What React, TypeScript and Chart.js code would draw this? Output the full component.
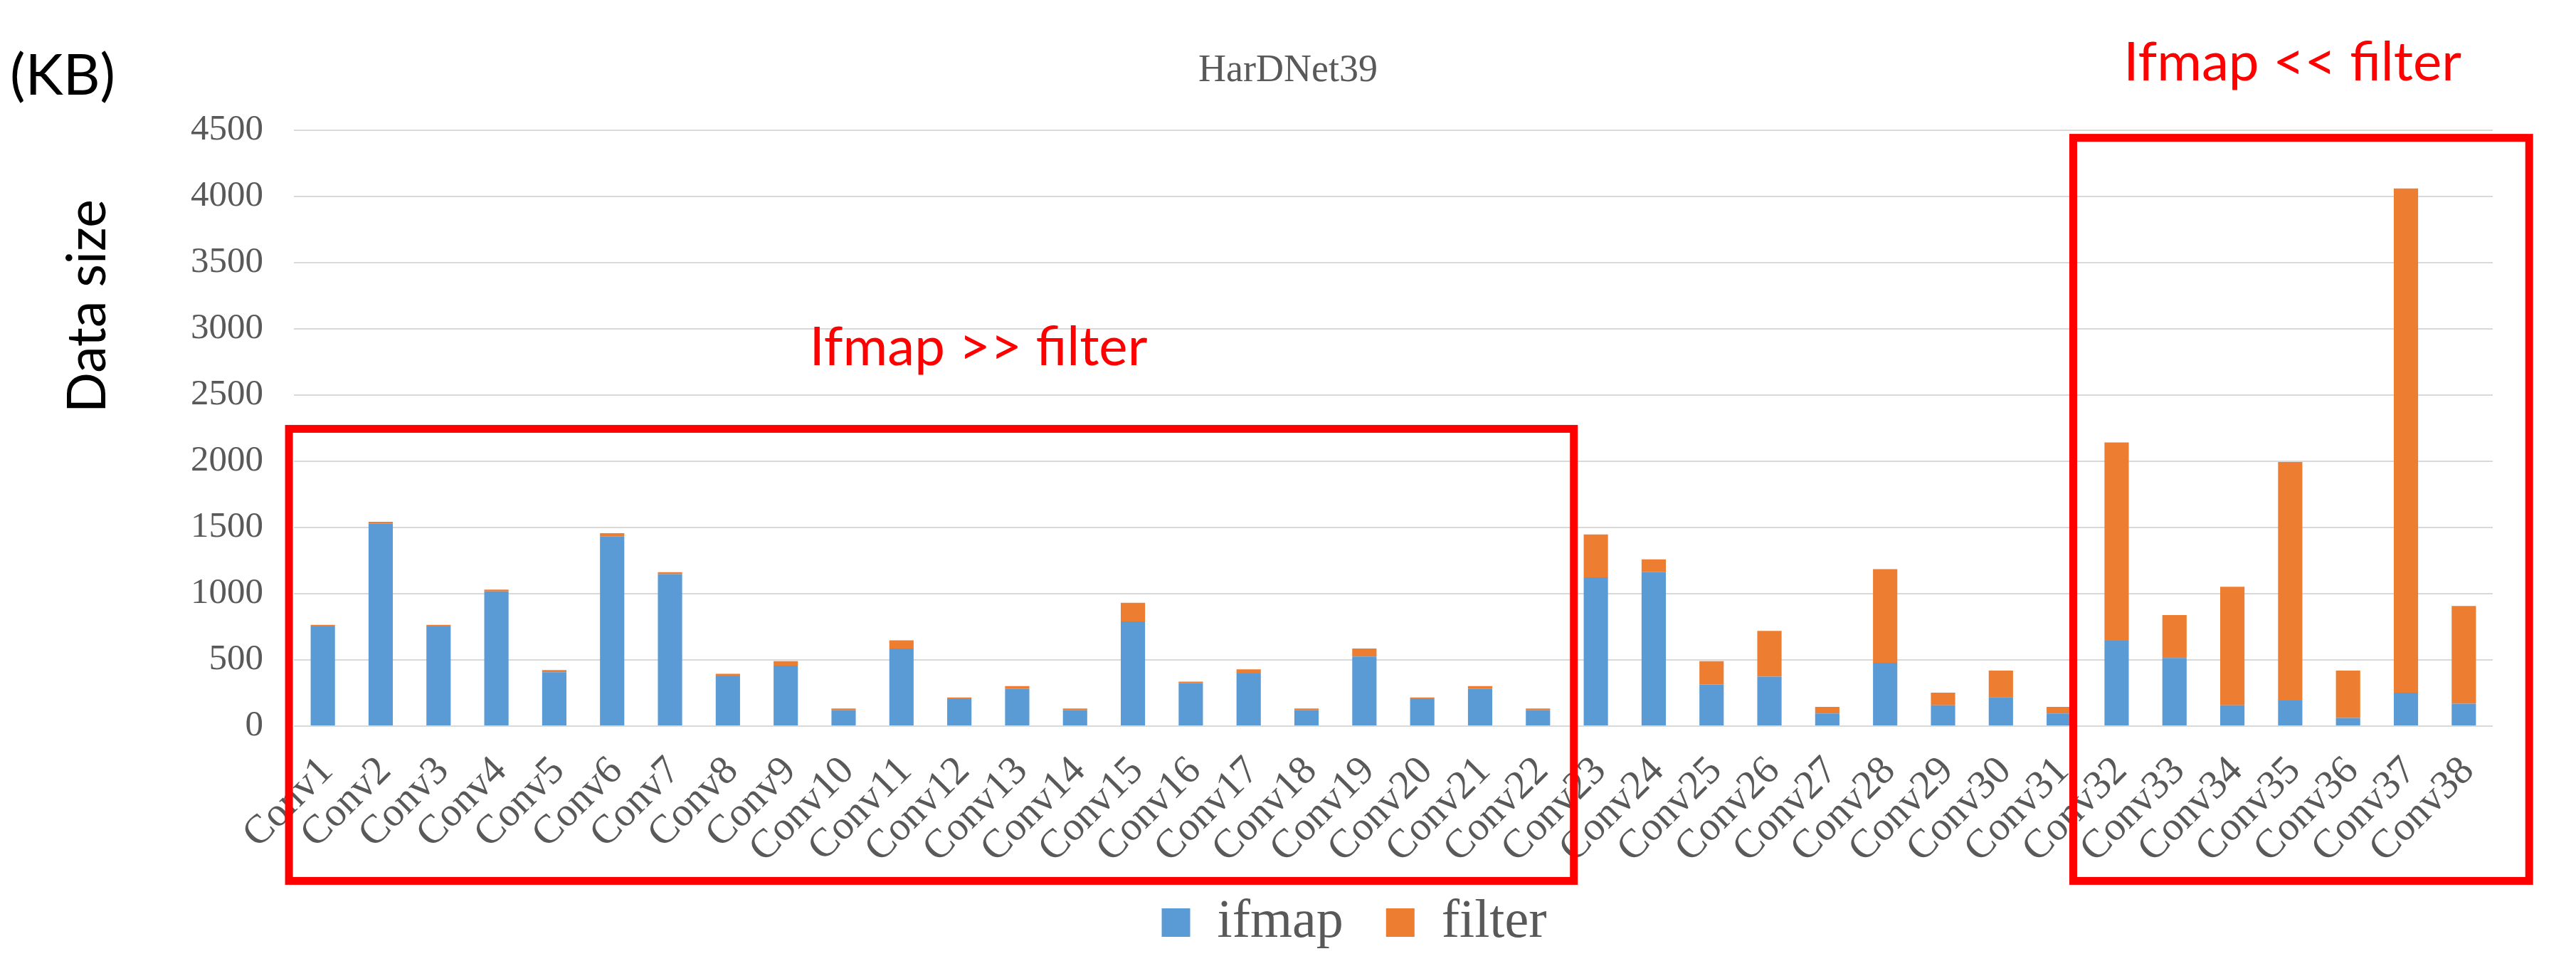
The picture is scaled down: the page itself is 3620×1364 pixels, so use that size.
import React, { useEffect, useRef } from "react";
import { Chart, registerables } from "chart.js";

Chart.register(...registerables);

const categories = [
  "Conv1", "Conv2", "Conv3", "Conv4", "Conv5", "Conv6", "Conv7", "Conv8", "Conv9", "Conv10",
  "Conv11", "Conv12", "Conv13", "Conv14", "Conv15", "Conv16", "Conv17", "Conv18", "Conv19", "Conv20",
  "Conv21", "Conv22", "Conv23", "Conv24", "Conv25", "Conv26", "Conv27", "Conv28", "Conv29", "Conv30",
  "Conv31", "Conv32", "Conv33", "Conv34", "Conv35", "Conv36", "Conv37", "Conv38",
];

const ifmapValues = [
  753, 1528, 753, 1018, 407, 1432, 1148, 376, 457, 120,
  586, 204, 281, 120, 790, 324, 398, 120, 525, 204,
  281, 120, 1123, 1163, 315, 373, 96, 478, 157, 219,
  96, 645, 515, 157, 194, 62, 253, 170,
];

const filterValues = [
  12, 15, 12, 13, 16, 25, 15, 19, 34, 13,
  62, 12, 21, 13, 142, 12, 31, 13, 61, 12,
  21, 13, 324, 96, 176, 346, 49, 707, 96, 201,
  49, 1497, 324, 895, 1800, 358, 3808, 737,
];

const yMin = 0;
const yMax = 4500;
const yStep = 500;

const titleText = "HarDNet39";
const seriesNames = ["ifmap", "filter"];
const unitLabel = "(KB)";
const yAxisLabel = "Data size";
const noteLeft = "Ifmap >> filter";
const noteRight = "Ifmap << filter";

const BLUE = "#5B9BD5";
const ORANGE = "#ED7D31";
const GRAY_TEXT = "#595959";
const SERIF = "'Liberation Serif', 'Times New Roman', serif";
const SANS = "Lato, 'Open Sans', sans-serif";

function fitFontSize(ctx: CanvasRenderingContext2D, text: string, family: string, targetWidth: number) {
  ctx.font = `100px ${family}`;
  const w = ctx.measureText(text).width;
  return (100 * targetWidth) / w;
}

const annotationPlugin = {
  id: "annotations",
  afterLayout(chart: any) {
    // widen label clip areas so long tick labels are not cut
    const ys = chart.scales.y;
    if (ys) ys.left = 0;
    const xs = chart.scales.x;
    if (xs) xs.bottom = chart.height;
  },
  afterDatasetsDraw(chart: any) {
    const ctx: CanvasRenderingContext2D = chart.ctx;
    const xs = chart.scales.x;
    const ys = chart.scales.y;
    ctx.save();

    // red highlight boxes (category-index / value space)
    ctx.strokeStyle = "#FF0000";
    ctx.lineWidth = 11;
    const boxes = [
      { from: -0.585, to: 21.62, top: 2245, bottom: -1169 },
      { from: 30.25, to: 38.13, top: 4443, bottom: -1169 },
    ];
    boxes.forEach((b) => {
      const x1 = xs.getPixelForValue(b.from);
      const x2 = xs.getPixelForValue(b.to);
      const y1 = ys.getPixelForValue(b.top);
      const y2 = ys.getPixelForValue(b.bottom);
      ctx.strokeRect(x1, y1, x2 - x1, y2 - y1);
    });

    // red notes
    ctx.fillStyle = "#FF0000";
    ctx.textAlign = "center";
    ctx.textBaseline = "alphabetic";
    const noteSize = fitFontSize(ctx, noteLeft, SANS, 475);
    ctx.font = `${noteSize}px ${SANS}`;
    ctx.fillText(noteLeft, xs.getPixelForValue(11.33), ys.getPixelForValue(2726));
    ctx.fillText(noteRight, xs.getPixelForValue(34.04), ys.getPixelForValue(4876));

    // chart title
    ctx.fillStyle = GRAY_TEXT;
    ctx.textAlign = "center";
    ctx.textBaseline = "middle";
    ctx.font = `54px ${SERIF}`;
    ctx.fillText(titleText, 1810, 100);

    // unit label
    ctx.fillStyle = "#000000";
    ctx.textAlign = "left";
    ctx.textBaseline = "alphabetic";
    const kbSize = fitFontSize(ctx, unitLabel, SANS, 148);
    ctx.font = `${kbSize}px ${SANS}`;
    ctx.fillText(unitLabel, 14, 133);

    // y axis title (rotated)
    const dsSize = fitFontSize(ctx, yAxisLabel, SANS, 300);
    ctx.font = `${dsSize}px ${SANS}`;
    ctx.translate(148, 430);
    ctx.rotate(-Math.PI / 2);
    ctx.textAlign = "center";
    ctx.fillText(yAxisLabel, 0, 0);
    ctx.restore();
  },
};

export default function App() {
  const canvasRef = useRef<HTMLCanvasElement | null>(null);

  useEffect(() => {
    if (!canvasRef.current) return;
    const chart = new Chart(canvasRef.current, {
      type: "bar",
      data: {
        labels: categories,
        datasets: [
          {
            label: seriesNames[0],
            data: ifmapValues,
            backgroundColor: BLUE,
            borderWidth: 0,
            barPercentage: 0.42,
            categoryPercentage: 1,
          },
          {
            label: seriesNames[1],
            data: filterValues,
            backgroundColor: ORANGE,
            borderWidth: 0,
            barPercentage: 0.42,
            categoryPercentage: 1,
          },
        ],
      },
      options: {
        animation: false,
        responsive: false,
        devicePixelRatio: 1,
        layout: { padding: { left: 303, right: 117, top: 183, bottom: 20 } },
        plugins: {
          title: { display: false },
          legend: {
            position: "bottom",
            labels: {
              boxWidth: 40,
              boxHeight: 40,
              padding: 60,
              color: GRAY_TEXT,
              font: { family: SERIF, size: 76 },
            },
          },
          tooltip: { enabled: false },
        },
        scales: {
          x: {
            stacked: true,
            grid: { display: false },
            border: { display: false },
            ticks: {
              color: GRAY_TEXT,
              font: { family: SERIF, size: 57 },
              minRotation: 45,
              maxRotation: 45,
              autoSkip: false,
              padding: 22,
              labelOffset: 6,
            },
            afterFit(scale: any) {
              scale.height = 178;
              scale.paddingLeft = 0;
              scale.paddingRight = 0;
            },
          },
          y: {
            stacked: true,
            min: yMin,
            max: yMax,
            ticks: {
              stepSize: yStep,
              color: GRAY_TEXT,
              font: { family: SERIF, size: 51 },
              padding: 43,
              callback: (v: any) => String(v),
            },
            grid: { color: "#D9D9D9", lineWidth: 2, drawTicks: false },
            border: { display: false },
            afterFit(scale: any) {
              scale.width = 110;
              scale.paddingTop = 0;
            },
          },
        },
      },
      plugins: [annotationPlugin],
    } as any);
    return () => chart.destroy();
  }, []);

  return (
    <div style={{ position: "fixed", left: 0, top: 0, width: 3620, height: 1364, background: "#fff" }}>
      <canvas ref={canvasRef} width={3620} height={1364} style={{ width: 3620, height: 1364 }} />
    </div>
  );
}
